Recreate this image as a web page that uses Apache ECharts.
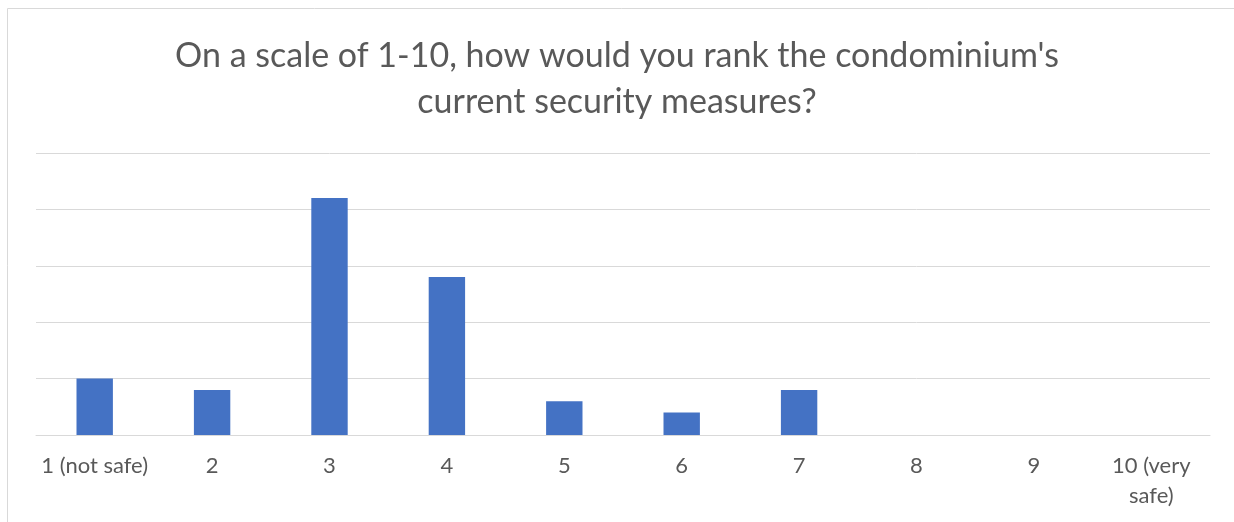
<!DOCTYPE html>
<html>
<head>
<meta charset="utf-8">
<script src="https://cdn.jsdelivr.net/npm/echarts@6/dist/echarts.min.js"></script>
<style>
  html, body { margin: 0; padding: 0; background: #fff; }
  #chart { width: 1234px; height: 522px; }
</style>
</head>
<body>
<div id="chart"></div>
<script>
var categories = ['1 (not safe)', '2', '3', '4', '5', '6', '7', '8', '9', '10 (very\nsafe)'];
var responses = [5, 4, 21, 14, 3, 2, 4, 0, 0, 0];

var chart = echarts.init(document.getElementById('chart'));
chart.setOption({
  animation: false,
  textStyle: { fontFamily: 'Lato' },
  title: {
    text: "On a scale of 1-10, how would you rank the condominium's\ncurrent security measures?",
    left: 'center',
    top: 28,
    textStyle: { fontFamily: 'Lato', fontSize: 34, fontWeight: 'normal', color: '#595959', lineHeight: 46 }
  },
  graphic: [{
    type: 'rect', silent: true,
    shape: { x: 7.5, y: 8.5, width: 1400, height: 700 },
    style: { fill: 'none', stroke: '#d9d9d9', lineWidth: 1 }
  }],
  grid: { left: 36, right: 24, top: 153, bottom: 87 },
  xAxis: {
    type: 'category',
    data: categories,
    axisTick: { show: false },
    axisLine: { lineStyle: { color: '#d9d9d9', width: 1 } },
    axisLabel: { color: '#595959', fontSize: 22, lineHeight: 30, margin: 16, interval: 0 }
  },
  yAxis: {
    type: 'value',
    min: 0, max: 25, interval: 5,
    axisLabel: { show: false },
    axisLine: { show: false },
    axisTick: { show: false },
    splitLine: { lineStyle: { color: '#d9d9d9', width: 1 } }
  },
  series: [{
    type: 'bar',
    data: responses,
    barWidth: '31%',
    itemStyle: { color: '#4472C4' }
  }]
});
</script>
</body>
</html>
